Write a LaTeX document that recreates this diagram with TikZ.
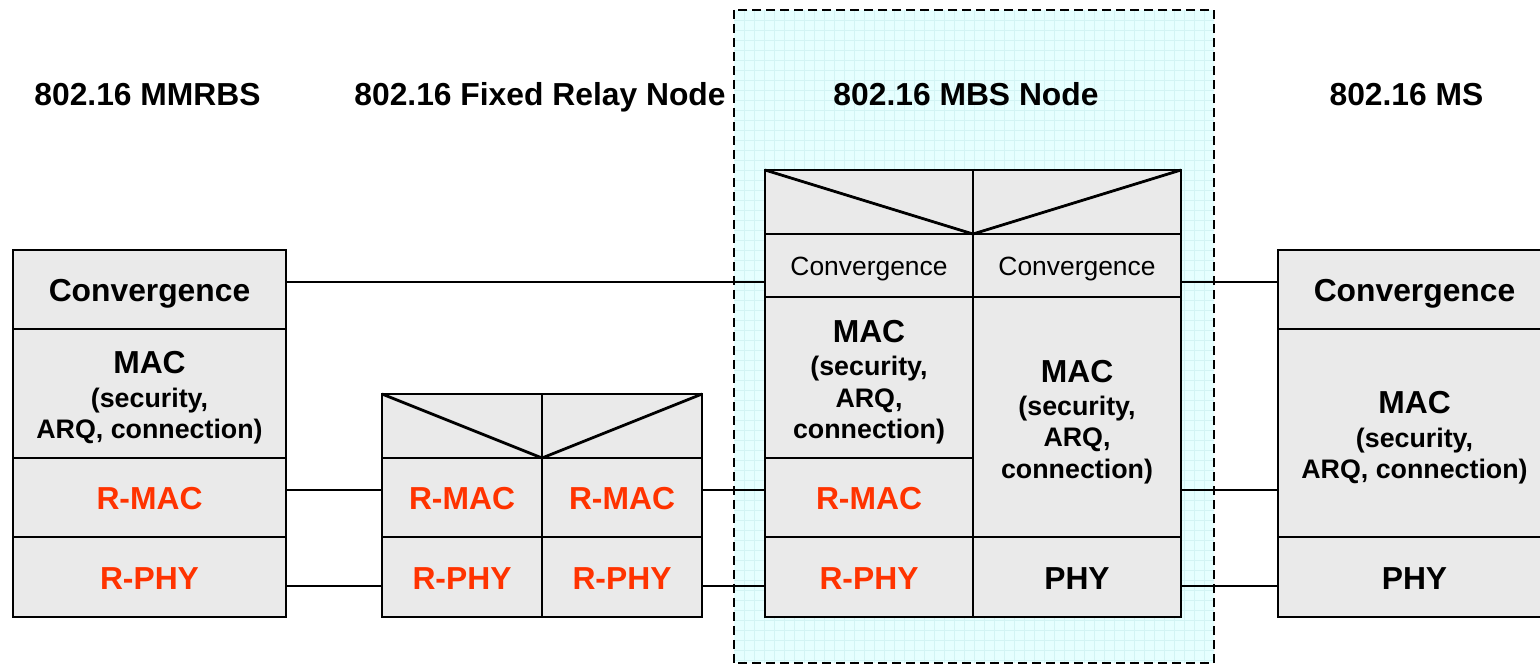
\documentclass[tikz,border=0pt]{standalone}
\usepackage{fontspec}
\setmainfont{Liberation Sans}
\definecolor{cellgray}{HTML}{EAEAEA}
\definecolor{rred}{HTML}{FF3300}
\definecolor{mbsfill}{HTML}{E6FFFF}
\definecolor{mbsgrid}{HTML}{D3F4F4}
\tikzset{
  cell/.style 2 args={draw=black, fill=cellgray, line width=2.8pt, inner sep=0pt, outer sep=0pt, minimum width=#1, minimum height=#2},
  bigtxt/.style={anchor=base, inner sep=0pt, font=\fontsize{31.8}{36}\selectfont\bfseries},
  smltxt/.style={anchor=base, inner sep=0pt, font=\fontsize{26.8}{31}\selectfont\bfseries},
  plaintxt/.style={anchor=base, inner sep=0pt, font=\fontsize{26.4}{31}\selectfont},
  redtxt/.style={bigtxt, text=rred},
  link/.style={draw=black, line width=2.2pt},
  diag/.style={draw=black, line width=2.8pt},
  frame/.style={draw=black, line width=2.2pt, dash pattern=on 9pt off 5pt}
}
\begin{document}
\begin{tikzpicture}[x=1pt,y=-1pt]
\useasboundingbox (0,0) rectangle (1540,665);
\fill[white] (0,0) rectangle (1540,665);
% MBS area background
\node[fill=mbsfill, inner sep=0pt, minimum width=480, minimum height=653] (mbsarea) at (974,336.5) {};
\begin{scope}
\clip (734,10) rectangle (1214,663);
\foreach \gx in {744,754,...,1214} \draw[mbsgrid, line width=0.6pt] (\gx,10) -- (\gx,663);
\foreach \gy in {20,30,...,663} \draw[mbsgrid, line width=0.6pt] (734,\gy) -- (1214,\gy);
\end{scope}

% titles
\node[bigtxt] (t1) at (147.5,105) {802.16 MMRBS};
\node[bigtxt] (t2) at (540,105) {802.16 Fixed Relay Node};
\node[bigtxt] (t3) at (966,105) {802.16 MBS Node};
\node[bigtxt] (t4) at (1406.5,105) {802.16 MS};

% MMRBS stack
\node[cell={273}{79}] (mmconv) at (149.5,289.5) {};
\node[cell={273}{129}] (mmmac) at (149.5,393.5) {};
\node[cell={273}{79}] (mmrmac) at (149.5,497.5) {};
\node[cell={273}{80}] (mmrphy) at (149.5,577) {};
\node[bigtxt] (mmconvt) at (149.5,301.5) {Convergence};
\node[bigtxt] (mmmact1) at (149.5,373) {MAC};
\node[smltxt] (mmmact2) at (149.5,407) {(security,};
\node[smltxt] (mmmact3) at (149.5,438) {ARQ, connection)};
\node[redtxt] (mmrmact) at (149.5,509.5) {R-MAC};
\node[redtxt] (mmrphyt) at (149.5,589) {R-PHY};

% Relay stack
\node[cell={160}{64}] (rltopL) at (462,426) {};
\node[cell={160}{64}] (rltopR) at (622,426) {};
\node[cell={160}{79}] (rlrmacL) at (462,497.5) {};
\node[cell={160}{79}] (rlrmacR) at (622,497.5) {};
\node[cell={160}{80}] (rlrphyL) at (462,577) {};
\node[cell={160}{80}] (rlrphyR) at (622,577) {};
\draw[diag] (rltopL.north west) -- (rltopL.south east);
\draw[diag] (rltopR.north east) -- (rltopR.south west);
\node[redtxt] (rlrmacLt) at (462,509.5) {R-MAC};
\node[redtxt] (rlrmacRt) at (622,509.5) {R-MAC};
\node[redtxt] (rlrphyLt) at (462,589) {R-PHY};
\node[redtxt] (rlrphyRt) at (622,589) {R-PHY};

% MBS stack
\node[cell={208}{64}] (mbtopL) at (869,202) {};
\node[cell={208}{64}] (mbtopR) at (1077,202) {};
\node[cell={208}{63}] (mbconvL) at (869,265.5) {};
\node[cell={208}{63}] (mbconvR) at (1077,265.5) {};
\node[cell={208}{161}] (mbmacL) at (869,377.5) {};
\node[cell={208}{79}] (mbrmac) at (869,497.5) {};
\node[cell={208}{80}] (mbrphy) at (869,577) {};
\node[cell={208}{240}] (mbmacR) at (1077,417) {};
\node[cell={208}{80}] (mbphy) at (1077,577) {};
\draw[diag] (mbtopL.north west) -- (mbtopL.south east);
\draw[diag] (mbtopR.north east) -- (mbtopR.south west);
\node[plaintxt] (mbconvLt) at (869,275.5) {Convergence};
\node[plaintxt] (mbconvRt) at (1077,275.5) {Convergence};
\node[bigtxt] (mbmacLt1) at (869,342) {MAC};
\node[smltxt] (mbmacLt2) at (869,375) {(security,};
\node[smltxt] (mbmacLt3) at (869,407) {ARQ,};
\node[smltxt] (mbmacLt4) at (869,438) {connection)};
\node[redtxt] (mbrmact) at (869,509.5) {R-MAC};
\node[redtxt] (mbrphyt) at (869,589) {R-PHY};
\node[bigtxt] (mbmacRt1) at (1077,382) {MAC};
\node[smltxt] (mbmacRt2) at (1077,415) {(security,};
\node[smltxt] (mbmacRt3) at (1077,446) {ARQ,};
\node[smltxt] (mbmacRt4) at (1077,478) {connection)};
\node[bigtxt] (mbphyt) at (1077,589) {PHY};

% MS stack
\node[cell={273}{79}] (msconv) at (1414.5,289.5) {};
\node[cell={273}{208}] (msmac) at (1414.5,433) {};
\node[cell={273}{80}] (msphy) at (1414.5,577) {};
\node[bigtxt] (msconvt) at (1414.5,301.5) {Convergence};
\node[bigtxt] (msmact1) at (1414.5,413) {MAC};
\node[smltxt] (msmact2) at (1414.5,447) {(security,};
\node[smltxt] (msmact3) at (1414.5,478) {ARQ, connection)};
\node[bigtxt] (msphyt) at (1414.5,589) {PHY};

% connector levels
\coordinate (yc) at (0,282);
\coordinate (ym) at (0,490);
\coordinate (yp) at (0,586);

% connectors
\draw[link] (mmconv.east |- yc) -- (mbconvL.west |- yc);
\draw[link] (mmrmac.east |- ym) -- (rlrmacL.west |- ym);
\draw[link] (mmrphy.east |- yp) -- (rlrphyL.west |- yp);
\draw[link] (rlrmacR.east |- ym) -- (mbrmac.west |- ym);
\draw[link] (rlrphyR.east |- yp) -- (mbrphy.west |- yp);
\draw[link] (mbconvR.east |- yc) -- (msconv.west |- yc);
\draw[link] (mbmacR.east |- ym) -- (msmac.west |- ym);
\draw[link] (mbphy.east |- yp) -- (msphy.west |- yp);

% dashed frame
\draw[frame] (mbsarea.north west) rectangle (mbsarea.south east);
\end{tikzpicture}
\end{document}
